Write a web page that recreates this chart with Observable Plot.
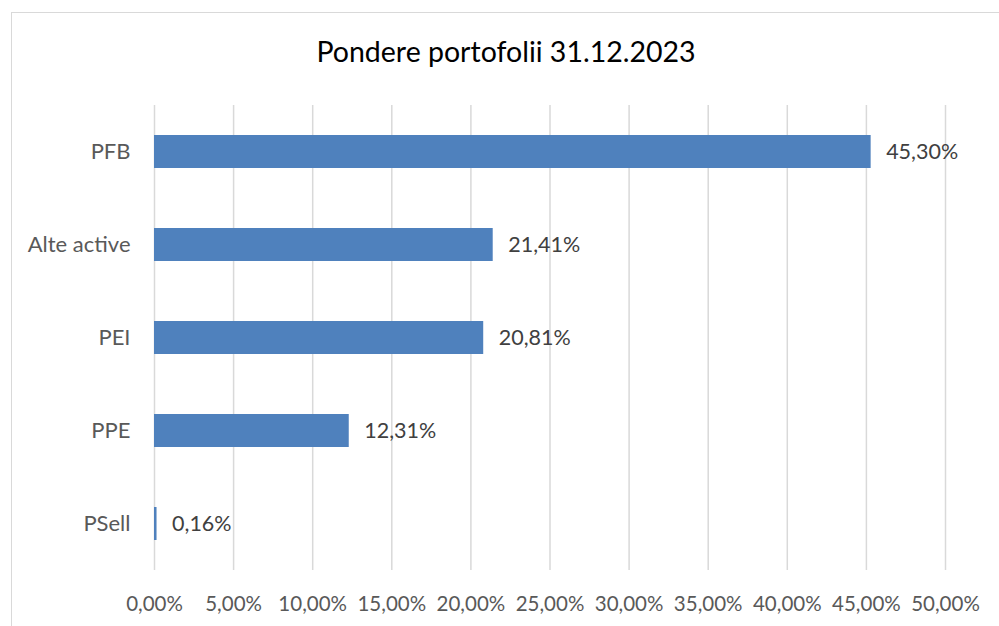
<!DOCTYPE html>
<html><head><meta charset="utf-8">
<script src="https://cdn.jsdelivr.net/npm/d3@7"></script>
<script src="https://cdn.jsdelivr.net/npm/@observablehq/plot@0.6"></script>
<style>
html,body{margin:0;padding:0;background:#fff;}
#wrap{position:relative;width:999px;height:626px;overflow:hidden;font-family:Lato,"Open Sans",sans-serif;}
#frame{position:absolute;left:11px;top:12px;width:1100px;height:800px;border:1.5px solid #d9d9d9;box-sizing:border-box;}
#title{position:relative;height:80px;text-align:center;font-size:28.5px;color:#000;line-height:58px;padding-top:22px;padding-left:13px;box-sizing:border-box;white-space:nowrap;}
#chart{position:relative;}
</style></head>
<body>
<div id="wrap"><div id="frame"></div><div id="title">Pondere portofolii 31.12.2023</div><div id="chart"></div></div>
<script>
const categories = ["PFB", "Alte active", "PEI", "PPE", "PSell"];
const values = [45.30, 21.41, 20.81, 12.31, 0.16];
const xTicks = [0, 5, 10, 15, 20, 25, 30, 35, 40, 45, 50];

const loc = d3.formatLocale({decimal: ",", thousands: ".", grouping: [3], currency: ["", "€"]});
const f2 = loc.format(".2f");
const pct = d => f2(d) + "%";
const data = categories.map((c, i) => ({category: c, value: values[i]}));

const chart = Plot.plot({
  width: 999,
  height: 546,
  marginLeft: 154,
  marginRight: 54,
  marginTop: 25,
  marginBottom: 56,
  style: {fontFamily: 'Lato, "Open Sans", sans-serif', background: "transparent"},
  x: {domain: [0, 50], ticks: xTicks},
  y: {domain: categories, paddingInner: 0.645, paddingOuter: 0.3225},
  marks: [
    Plot.gridX(xTicks, {stroke: "#d9d9d9", strokeOpacity: 1, strokeWidth: 1.5}),
    Plot.barX(data, {x: "value", y: "category", fill: "#4f81bd"}),
    Plot.text(data, {x: "value", y: "category", text: d => pct(d.value), textAnchor: "start", dx: 15, fontSize: 21.5, fill: "#404040"}),
    Plot.axisX({ticks: xTicks, tickFormat: pct, tickSize: 0, tickPadding: 26, fontSize: 20.5, color: "#595959", label: null}),
    Plot.axisY({tickSize: 0, tickPadding: 24, fontSize: 22, color: "#595959", label: null})
  ]
});
document.getElementById("chart").appendChild(chart);
</script>
</body></html>
